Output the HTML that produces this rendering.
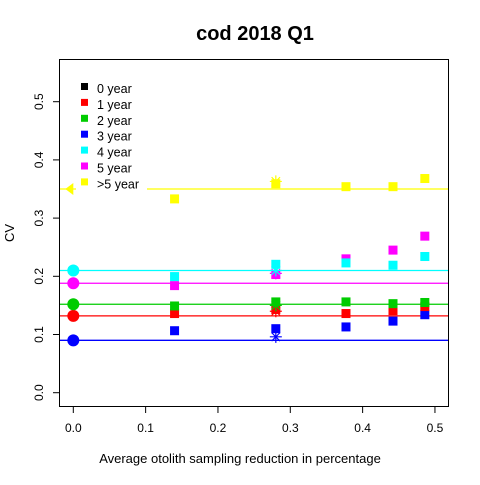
<!DOCTYPE html>
<html><head><meta charset="utf-8"><style>
body{margin:0;background:#fff}
svg text{font-family:"Liberation Sans",Arial,sans-serif}
</style></head><body>
<svg id="chart" width="480" height="480">
<rect width="480" height="480" fill="#fff"/>
<text x="255" y="40" font-size="20" font-weight="bold" text-anchor="middle">cod 2018 Q1</text>
<text x="240" y="463" font-size="13" text-anchor="middle">Average otolith sampling reduction in percentage</text>
<text x="0" y="0" font-size="13" text-anchor="middle" transform="translate(14,233) rotate(-90)">CV</text>
<g id="axes"></g>
<g id="lines"></g>
<g id="marks"></g>
<g id="legend"></g>
<rect x="59.5" y="59.5" width="389" height="347" fill="none" stroke="#000"/>
</svg>
<script>
const seriesNames = ["0 year","1 year","2 year","3 year","4 year","5 year",">5 year"];
const seriesColors = ["#000000","#ff0000","#00cc00","#0000ff","#00ffff","#ff00ff","#ffff00"];
const xValues = [0.14, 0.28, 0.377, 0.442, 0.486];
const baseline1 = 0.132, baseline2 = 0.152, baseline3 = 0.090, baseline4 = 0.210, baseline5 = 0.188, baseline6 = 0.350;
const values1 = [0.136, 0.143, 0.136, 0.141, 0.148];
const values2 = [0.149, 0.156, 0.156, 0.153, 0.155];
const values3 = [0.1065, 0.110, 0.113, 0.123, 0.134];
const values4 = [0.1995, 0.2206, 0.223, 0.219, 0.234];
const values5 = [0.184, 0.203, 0.230, 0.245, 0.269];
const values6 = [0.333, 0.359, 0.354, 0.354, 0.368];
const starX = 0.28;
const starValues = [null, 0.140, 0.150, 0.096, 0.210, 0.205, 0.363];
const xTicks = [0, 0.1, 0.2, 0.3, 0.4, 0.5];
const xTickLabels = ["0.0","0.1","0.2","0.3","0.4","0.5"];
const yTicks = [0, 0.1, 0.2, 0.3, 0.4, 0.5];
const yTickLabels = ["0.0","0.1","0.2","0.3","0.4","0.5"];

const X = v => 73.3 + 723.3 * v;
const Y = v => 392.7 - 582 * v;
const NS = "http://www.w3.org/2000/svg";
function mk(tag, attrs, parent) {
  const e = document.createElementNS(NS, tag);
  for (const k in attrs) e.setAttribute(k, attrs[k]);
  parent.appendChild(e);
  return e;
}
const axes = document.getElementById("axes");
xTicks.forEach((t, i) => {
  const l = mk("line", {x1: X(t), x2: X(t), y1: 406.5, y2: 413, stroke: "#000"}, axes);
  
  
  const tx = mk("text", {x: X(t), y: 432, "font-size": 12, "text-anchor": "middle"}, axes);
  tx.textContent = xTickLabels[i];
  
  
});
yTicks.forEach((t, i) => {
  const l = mk("line", {x1: 53, x2: 59.5, y1: Y(t), y2: Y(t), stroke: "#000"}, axes);
  
  
  const tx = mk("text", {x: 0, y: 0, "font-size": 12, "text-anchor": "middle", transform: `translate(43,${Y(t)}) rotate(-90)`}, axes);
  tx.textContent = yTickLabels[i];
  
  
});

const baselines = [null, baseline1, baseline2, baseline3, baseline4, baseline5, baseline6];
const values = [null, values1, values2, values3, values4, values5, values6];
const lines = document.getElementById("lines");
const marks = document.getElementById("marks");
[3, 1, 2, 5, 4, 6].forEach(s => {
  const col = seriesColors[s];
  const ln = mk("line", {x1: 60, x2: 448, y1: Y(baselines[s]), y2: Y(baselines[s]), stroke: col, "stroke-width": 1.3}, lines);
  
  
  if (s === 6) {
    const tri = mk("polygon", {points: `${X(0)-8},${Y(baselines[s])} ${X(0)},${Y(baselines[s])-6} ${X(0)},${Y(baselines[s])+6}`, fill: col}, marks);
    
    
  } else {
    const c = mk("circle", {cx: X(0), cy: Y(baselines[s]), r: 6, fill: col}, marks);
    
    
  }
  values[s].forEach((v, i) => {
    const r = mk("rect", {x: X(xValues[i]) - 4.5, y: Y(v) - 4.5, width: 9, height: 9, fill: col}, marks);
    
    
  });
  const sv = starValues[s];
  if (sv != null) {
    const cx = X(starX), cy = Y(sv), d = 6;
    const st = mk("path", {d: `M${cx-d},${cy}H${cx+d}M${cx},${cy-d}V${cy+d}M${cx-d*0.7},${cy-d*0.7}L${cx+d*0.7},${cy+d*0.7}M${cx-d*0.7},${cy+d*0.7}L${cx+d*0.7},${cy-d*0.7}`, stroke: col, "stroke-width": 1.2, fill: "none"}, marks);
    
    
  }
});
// legend
const lg = document.getElementById("legend");
const bg = mk("rect", {x: 76, y: 78, width: 71, height: 113, fill: "#fff"}, lg);


seriesNames.forEach((n, i) => {
  const yy = 87 + i * 15.9;
  const r = mk("rect", {x: 81, y: yy - 4, width: 7, height: 7, fill: seriesColors[i]}, lg);
  
  
  const t = mk("text", {x: 97, y: yy + 6, "font-size": 12.5}, lg);
  t.textContent = n;
  
  
});
</script>
</body></html>
